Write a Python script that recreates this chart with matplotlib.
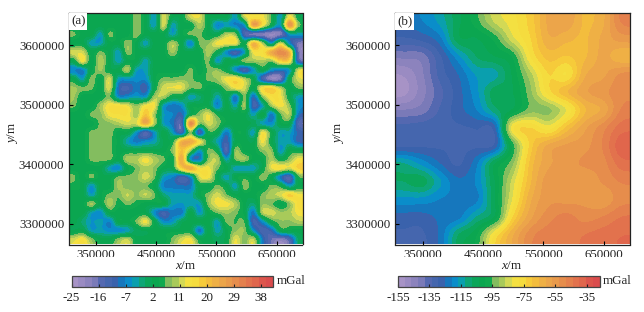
import numpy as np
import matplotlib
matplotlib.use('Agg')
import matplotlib.pyplot as plt
from matplotlib.colors import ListedColormap, BoundaryNorm
from matplotlib.cm import ScalarMappable
from matplotlib.patches import Rectangle

plt.rcParams['font.family'] = ['Liberation Serif', 'DejaVu Serif']
plt.rcParams['mathtext.fontset'] = 'custom'
plt.rcParams['mathtext.rm'] = 'Liberation Serif'
plt.rcParams['mathtext.it'] = 'Liberation Serif:italic'

W, H = 644, 312
x_range = (305000, 693000)
y_range = (3265500, 3654600)
x_ticks = [350000, 450000, 550000, 650000]
y_ticks = [3300000, 3400000, 3500000, 3600000]
colorbar_ticks_a = [-25, -16, -7, 2, 11, 20, 29, 38]
colorbar_ticks_b = [-155, -135, -115, -95, -75, -55, -35]
range_a = (-25, 42)
range_b = (-155, -27)
colors = ['#a793c6', '#9a8bc2', '#8c83bd', '#7a7ab8', '#5468b0', '#4566ae', '#3a62ac', '#1677bd',
          '#0a8dca', '#0a9fae', '#0ea676', '#0ba65a', '#0ba650', '#10a94f', '#83bd5f', '#a8ca5a',
          '#d3d955', '#f4e041', '#f5dc3e', '#f6cb3a', '#f3bd3d', '#efb045', '#eca54a', '#e99a4b',
          '#e68d4c', '#e4804d', '#e2724d', '#e0664c', '#dc554c', '#da4c4d']

anomaly_a = [
 [3,3,3,3,3,3,3,8,3,-4,12,3,3, 12,13,3,3,3,-4,12,14,14,6,-4,14,3],
 [3,3,3,3,3,3,3,8,3,-4,12,-4,3, 3,10,3,-7,-4,-7,-5,26,15,3,-4,28,8],
 [7,3,3,-4,7,3,3,8,3,3,3,-4,3, 7,7,3,3,10,8,-13,-17,-18,-21,-18,-5,-4],
 [3,3,-4,-4,3,3,8,3,-4,3,3,10,3, -7,7,8,14,14,14,3,22,10,-4,12,-6,-17],
 [12,12,3,7,3,-4,8,3,3,3,3,9,3, 3,3,10,3,-6,-12,-4,14,15,24,30,22,-16],
 [3,14,3,10,3,-4,3,3,-4,3,3,3,3, 3,3,7,-5,3,3,8,9,10,8,18,16,-12],
 [-7,-7,3,9,3,3,10,-4,-4,3,3,3,3, 7,3,7,8,3,-6,-12,-5,3,-5,-8,-4,12],
 [3,-4,8,3,12,-4,-5,-6,-6,3,7,7,8, 7,5,7,9,14,16,10,3,-12,-20,-17,3,12],
 [9,7,7,3,12,-9,-12,-8,-11,3,12,13,13, 7,7,3,3,8,14,12,3,15,17,10,3,7],
 [9,3,3,3,7,-6,-6,-4,-5,9,10,3,3, -4,-1,3,-4,3,-8,7,-9,8,15,14,3,-4],
 [7,3,3,9,15,15,13,8,14,14,-4,-8,-6, 3,3,3,-7,3,-4,9,-12,-4,9,14,8,-5],
 [3,3,7,8,14,15,15,9,20,9,-4,-7,-10, 3,8,13,5,3,3,3,-4,4,-8,6,10,-8],
 [3,3,3,7,8,10,12,12,24,10,-4,-8,-14, 30,8,12,8,3,3,3,1,-4,-6,3,3,-14],
 [3,3,7,7,8,3,3,-5,-14,-5,3,-4,-12, 8,-12,5,3,-8,3,3,-4,14,4,-4,-4,-10],
 [3,3,7,7,7,3,-4,-8,-6,-4,2,4,22, 24,15,3,-4,-11,2,3,2,14,3,-4,-4,-10],
 [3,3,7,7,7,3,3,3,3,3,3,8,20, 10,-4,7,3,-14,8,3,3,8,8,-5,3,3],
 [3,3,7,7,7,3,10,10,14,10,7,3,24, -5,-8,8,10,-4,7,9,3,3,10,3,8,14],
 [3,3,3,3,-4,-6,3,7,10,8,3,3,18, 24,14,14,7,3,-4,-4,-4,3,13,15,12,18],
 [7,3,7,3,3,7,7,8,12,7,-4,-7,-12, -6,12,14,3,-4,3,5,3,8,3,-8,-14,5],
 [5,3,-5,3,3,9,7,7,7,3,-7,-8,-9, -8,3,3,7,3,-4,8,3,3,7,5,-4,3],
 [3,3,-4,3,7,7,11,8,11,7,-1,-4,-4, -4,3,8,12,7,3,3,3,7,10,12,18,14],
 [3,3,9,3,10,5,7,5,3,3,3,-4,-5, -4,-4,8,14,14,10,3,-1,8,7,3,8,16],
 [3,3,-4,-6,3,3,3,3,3,-6,-12,-8,-8, 3,-5,3,7,9,7,3,-8,10,12,9,10,14],
 [3,-1,-5,-4,-7,3,3,7,14,3,-6,-5,1, 3,3,3,-4,7,6,6,-12,-6,4,8,8,10],
 [2,3,-4,-4,-6,-6,-4,1,2,3,3,3,3, 3,-8,3,-4,3,8,8,-5,-13,-10,3,3,3],
 [12,15,8,3,3,8,11,3,3,3,3,7,12, 14,4,3,1,3,13,7,11,-8,-16,-19,-14,0],
]

regional_b = [
 [-124,-121,-115,-105,-97,-86,-80,-72,-60,-58,-66,-62,-48],
 [-130,-128,-122,-105,-104,-98,-84,-74,-62,-64,-66,-60,-55],
 [-141,-140,-130,-118,-108,-104,-99,-78,-68,-70,-66,-60,-64],
 [-150,-143,-132,-125,-116,-114,-103,-88,-74,-78,-62,-58,-52],
 [-152,-144,-135,-127,-118,-106,-104,-92,-76,-66,-58,-54,-50],
 [-142,-140,-133,-127,-121,-110,-103,-93,-92,-82,-66,-60,-48],
 [-132,-131,-130,-130,-129,-127,-80,-74,-80,-68,-58,-50,-42],
 [-130,-130,-130,-130,-130,-128,-98,-72,-60,-56,-54,-48,-37],
 [-112,-118,-125,-130,-122,-104,-92,-68,-58,-54,-52,-50,-42],
 [-108,-106,-116,-124,-120,-104,-85,-66,-54,-54,-56,-52,-48],
 [-118,-118,-121,-122,-122,-104,-82,-62,-54,-54,-54,-56,-50],
 [-127,-127,-124,-122,-112,-103,-74,-58,-50,-47,-50,-48,-44],
 [-130,-130,-124,-108,-100,-78,-62,-50,-46,-46,-44,-42,-40],
]


def box(l, t, r, b):
    return [l / W, 1 - b / H, (r - l) / W, (b - t) / H]


fig = plt.figure(figsize=(W / 100, H / 100), dpi=100, facecolor='white')
cmap = ListedColormap(colors)


def panel(data, vrange, ticks, letter, ax_px, cb_px, unit_x, ylab_x, xlab_x):
    bounds = np.linspace(vrange[0], vrange[1], len(colors) + 1)
    norm = BoundaryNorm(bounds, cmap.N, clip=True)
    ax = fig.add_axes(box(*ax_px))
    ax.imshow(np.array(data, dtype=float), cmap=cmap, norm=norm, aspect='auto',
              extent=[x_range[0], x_range[1], y_range[0], y_range[1]],
              interpolation='catrom', interpolation_stage='data')
    ax.set_xlim(*x_range)
    ax.set_ylim(*y_range)
    ax.set_xticks(x_ticks)
    ax.set_yticks(y_ticks)
    ax.set_yticklabels([str(v) for v in y_ticks], fontsize=9.4, color='#222222')
    ax.set_xticklabels([str(v) for v in x_ticks], fontsize=9.4, color='#222222')
    ax.tick_params(direction='in', length=3.2, width=0.8, color='black', pad=3.5)
    for s in ax.spines.values():
        s.set_linewidth(0.9)
        s.set_color('#222222')
    ax.add_patch(Rectangle((0, 1 - 16.5 / 231.5), 18 / 233, 16.5 / 231.5, transform=ax.transAxes,
                           facecolor='white', edgecolor='none', zorder=5))
    ax.text(9.5 / 233, 1 - 8.5 / 231.5, letter, transform=ax.transAxes, fontsize=9.4,
            ha='center', va='center', color='#222222', zorder=6)

    fig.add_artist(Rectangle(((ax_px[0] - 5) / W, 1 - 272 / H), (ax_px[2] - ax_px[0] + 12) / W, 15.5 / H,
                             transform=fig.transFigure, facecolor='white', edgecolor='none', zorder=5))
    fig.text(xlab_x / W, 1 - 266 / H, r'$\mathit{x}$/m', fontsize=9.4, ha='center', va='center',
             color='#222222', zorder=6)
    fig.text(ylab_x / W, 1 - 133 / H, r'$\mathit{y}$/m', fontsize=9.4, ha='center', va='center',
             rotation=90, color='#222222')

    cax = fig.add_axes(box(*cb_px))
    sm = ScalarMappable(norm=norm, cmap=cmap)
    cb = fig.colorbar(sm, cax=cax, orientation='horizontal', spacing='proportional', ticks=ticks)
    cb.ax.minorticks_off()
    cb.set_ticklabels([str(t) for t in ticks], fontsize=9.4, color='#222222')
    cb.ax.tick_params(direction='in', length=2.5, width=0.8, color='#222222', pad=3.5)
    cb.outline.set_linewidth(0.9)
    cb.outline.set_edgecolor('#444444')
    fig.text(unit_x / W, 1 - 281.5 / H, 'mGal', fontsize=9.4, ha='left', va='center', color='#222222')


panel(anomaly_a, range_a, colorbar_ticks_a, '(a)', (69, 13, 302.5, 244.5), (71.5, 276, 272.5, 287), 277, 12, 185.5)
panel(regional_b, range_b, colorbar_ticks_b, '(b)', (395.5, 13, 629.5, 244.5), (398, 276, 599.5, 287), 603, 339, 512)

fig.savefig('out.png', dpi=100, facecolor='white')
